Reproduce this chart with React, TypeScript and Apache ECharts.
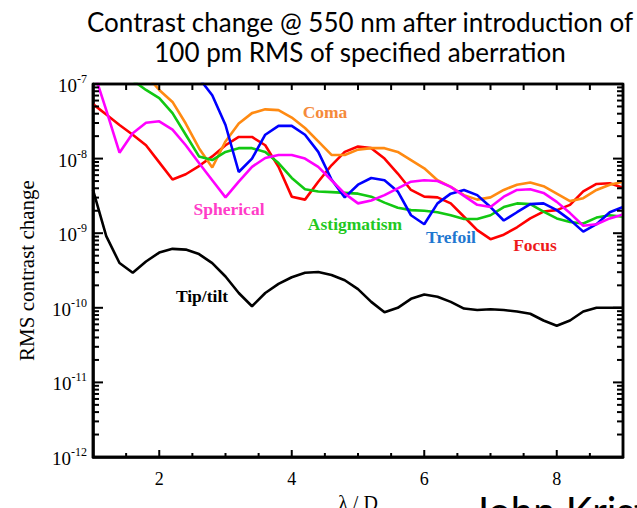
import React, { useEffect, useRef } from "react";
import * as echarts from "echarts";

// λ/D sample positions shared by every curve
const lambdaOverD = [
  1.0, 1.2, 1.4, 1.6, 1.8, 2.0, 2.2, 2.4, 2.6, 2.8, 3.0, 3.2, 3.4, 3.6, 3.8, 4.0,
  4.2, 4.4, 4.6, 4.8, 5.0, 5.2, 5.4, 5.6, 5.8, 6.0, 6.2, 6.4, 6.6, 6.8, 7.0, 7.2,
  7.4, 7.6, 7.8, 8.0, 8.2, 8.4, 8.6, 8.8, 9.0,
];

// RMS contrast change per aberration (null = not plotted)
const focus = [
  5.37e-8, 3.89e-8, 2.82e-8, 2.09e-8, 1.51e-8, 8.91e-9, 5.25e-9, 6.17e-9, 7.94e-9, 1.07e-8,
  1.51e-8, 1.95e-8, 1.95e-8, 1.51e-8, 7.76e-9, 3.09e-9, 2.82e-9, 4.9e-9, 8.13e-9, 1.23e-8,
  1.45e-8, 1.38e-8, 1.0e-8, 6.31e-9, 3.8e-9, 3.09e-9, 3.02e-9, 2.51e-9, 1.66e-9, 1.1e-9,
  8.32e-10, 9.55e-10, 1.2e-9, 1.58e-9, 1.95e-9, 2.04e-9, 2.4e-9, 3.63e-9, 4.57e-9, 4.68e-9,
  4.07e-9,
];
const coma = [
  null, null, null, null, 1.32e-7, 8.32e-8, 5.75e-8, 2.95e-8, 1.38e-8, 7.59e-9,
  1.7e-8, 2.95e-8, 4.07e-8, 4.57e-8, 4.47e-8, 3.55e-8, 2.57e-8, 1.7e-8, 1.12e-8, 1.12e-8,
  1.32e-8, 1.38e-8, 1.38e-8, 1.23e-8, 9.55e-9, 7.41e-9, 5.13e-9, 4.17e-9, 3.24e-9, 2.82e-9,
  3.02e-9, 3.8e-9, 4.47e-9, 4.79e-9, 4.27e-9, 3.39e-9, 2.69e-9, 2.95e-9, 3.8e-9, 4.47e-9,
  4.9e-9,
];
const astigmatism = [
  null, null, null, 1.12e-7, 8.32e-8, 6.46e-8, 4.07e-8, 2.09e-8, 1.07e-8, 9.55e-9,
  1.23e-8, 1.38e-8, 1.38e-8, 1.23e-8, 8.71e-9, 5.5e-9, 3.89e-9, 3.63e-9, 3.55e-9, 3.47e-9,
  3.39e-9, 3.09e-9, 2.57e-9, 2.19e-9, 2.04e-9, 2.0e-9, 1.91e-9, 1.74e-9, 1.55e-9, 1.55e-9,
  1.74e-9, 2.24e-9, 2.51e-9, 2.45e-9, 1.95e-9, 1.58e-9, 1.41e-9, 1.35e-9, 1.62e-9, 1.74e-9,
  1.66e-9,
];
const trefoil = [
  null, null, null, null, null, null, null, null, 1.2e-7, 7.08e-8,
  2.82e-8, 6.61e-9, 1.0e-8, 2.09e-8, 2.75e-8, 2.75e-8, 2.09e-8, 1.23e-8, 5.25e-9, 3.02e-9,
  4.47e-9, 5.5e-9, 5.13e-9, 3.63e-9, 1.74e-9, 1.32e-9, 2.51e-9, 3.39e-9, 3.8e-9, 3.24e-9,
  2.24e-9, 1.48e-9, 1.91e-9, 2.45e-9, 2.51e-9, 2.04e-9, 1.51e-9, 1.05e-9, 1.32e-9, 1.91e-9,
  2.24e-9,
];
const spherical = [
  1.58e-7, 4.47e-8, 1.2e-8, 2.19e-8, 3.02e-8, 3.16e-8, 2.45e-8, 1.51e-8, 8.71e-9, 5.13e-9,
  3.02e-9, 4.9e-9, 7.76e-9, 1.02e-8, 1.12e-8, 1.12e-8, 1.0e-8, 7.76e-9, 5.13e-9, 3.39e-9,
  2.51e-9, 2.75e-9, 3.24e-9, 3.98e-9, 4.9e-9, 5.13e-9, 5.01e-9, 4.17e-9, 3.16e-9, 2.4e-9,
  2.24e-9, 3.09e-9, 3.8e-9, 3.89e-9, 3.47e-9, 2.63e-9, 1.86e-9, 1.26e-9, 1.32e-9, 1.58e-9,
  1.78e-9,
];
const tipTilt = [
  3.8e-9, 9.12e-10, 3.98e-10, 2.95e-10, 4.17e-10, 5.5e-10, 6.17e-10, 6.03e-10, 5.25e-10, 3.98e-10,
  2.63e-10, 1.58e-10, 1.05e-10, 1.58e-10, 2.09e-10, 2.57e-10, 2.95e-10, 3.02e-10, 2.75e-10, 2.34e-10,
  1.78e-10, 1.2e-10, 8.71e-11, 1.0e-10, 1.32e-10, 1.51e-10, 1.41e-10, 1.2e-10, 9.77e-11, 9.33e-11,
  9.55e-11, 9.33e-11, 8.91e-11, 8.32e-11, 6.76e-11, 5.75e-11, 6.76e-11, 8.91e-11, 1.0e-10, 1.0e-10,
  1.0e-10,
];

// axis range, ticks and labels
const X_MIN = 1;
const X_MAX = 9;
const Y_MIN = 1e-12;
const Y_MAX = 1e-7;
const xLabelValues = [2, 4, 6, 8];
const xTickValues = [1.5, 2, 2.5, 3, 3.5, 4, 4.5, 5, 5.5, 6, 6.5, 7, 7.5, 8, 8.5];
const yDecades = [1e-12, 1e-11, 1e-10, 1e-9, 1e-8, 1e-7];
const yMinorTicks = [
  2e-12, 3e-12, 4e-12, 5e-12, 6e-12, 7e-12, 8e-12, 9e-12,
  2e-11, 3e-11, 4e-11, 5e-11, 6e-11, 7e-11, 8e-11, 9e-11,
  2e-10, 3e-10, 4e-10, 5e-10, 6e-10, 7e-10, 8e-10, 9e-10,
  2e-9, 3e-9, 4e-9, 5e-9, 6e-9, 7e-9, 8e-9, 9e-9,
  2e-8, 3e-8, 4e-8, 5e-8, 6e-8, 7e-8, 8e-8, 9e-8,
];

const curves = [
  { name: "Focus", data: focus, color: "#ff0000" },
  { name: "Coma", data: coma, color: "#ff8a12" },
  { name: "Astigmatism", data: astigmatism, color: "#12c812" },
  { name: "Trefoil", data: trefoil, color: "#0000ff" },
  { name: "Spherical", data: spherical, color: "#ff00ff" },
  { name: "Tip/tilt", data: tipTilt, color: "#000000" },
];

const SERIF = "'Liberation Serif', 'Times New Roman', serif";
const SANS = "Lato, 'Open Sans', sans-serif";
const FRAME_WIDTH = 2.5;

export default function App() {
  const ref = useRef<HTMLDivElement>(null);

  useEffect(() => {
    if (!ref.current) return;
    const chart = echarts.init(ref.current, null, { renderer: "svg" });

    const label = (text: string, x: number, y: number, color: string) => ({
      type: "text",
      x,
      y,
      z: 20,
      style: {
        text,
        fill: color,
        font: `bold 17.5px ${SERIF}`,
        textAlign: "center",
        textVerticalAlign: "middle",
      },
    });

    const labels = [
      label("Coma", 325, 112, "#f58a3a"),
      label("Spherical", 229, 209, "#ff3cc8"),
      label("Astigmatism", 355, 224, "#22c822"),
      label("Trefoil", 451, 237, "#1f78d0"),
      label("Focus", 535, 245, "#ee1a1a"),
      label("Tip/tilt", 202, 296, "#000000"),
      {
        type: "text",
        x: 472,
        y: 491,
        z: 20,
        style: { text: "John Krist", fill: "#000", font: `40px ${SANS}`, textVerticalAlign: "top" },
      },
    ];

    const axisLine = { show: true, onZero: false, lineStyle: { color: "#000000", width: FRAME_WIDTH } };

    chart.setOption({
      animation: false,
      backgroundColor: "#ffffff",
      grid: {
        left: 93,
        right: 14,
        top: 84,
        bottom: 51,
        containLabel: false,
        outerBoundsMode: "none",
        show: true,
        borderColor: "#000000",
        borderWidth: FRAME_WIDTH,
        backgroundColor: "rgba(0,0,0,0)",
      },
      title: {
        text: "Contrast change @ 550 nm after introduction of\n100 pm RMS of specified aberration",
        left: 355,
        top: 2,
        textAlign: "center",
        textStyle: { fontFamily: SANS, fontSize: 26, fontWeight: "normal", color: "#000", lineHeight: 30 },
      },
      xAxis: {
        type: "value",
        min: X_MIN,
        max: X_MAX,
        position: "bottom",
        splitLine: { show: false },
        axisLine,
        axisTick: { show: false },
        name: "λ / D",
        nameLocation: "middle",
        nameGap: 34,
        nameTextStyle: { fontFamily: SERIF, fontSize: 20, color: "#000" },
        axisLabel: { customValues: xLabelValues, fontFamily: SERIF, fontSize: 18, color: "#000", margin: 13 },
      },
      yAxis: {
        type: "log",
        logBase: 10,
        min: Y_MIN,
        max: Y_MAX,
        position: "left",
        splitLine: { show: false },
        axisLine,
        axisTick: { show: false },
        name: "RMS contrast change",
        nameLocation: "middle",
        nameRotate: 90,
        nameGap: 56,
        nameTextStyle: { fontFamily: SERIF, fontSize: 21, color: "#000" },
        axisLabel: {
          customValues: yDecades,
          margin: 6,
          formatter: (v: number) => `{b|10}{s|${Math.round(Math.log10(v))}}`,
          rich: {
            b: { fontFamily: SERIF, fontSize: 19, color: "#000", verticalAlign: "bottom", lineHeight: 22 },
            s: { fontFamily: SERIF, fontSize: 12, color: "#000", verticalAlign: "top", lineHeight: 22 },
          },
        },
      },
      series: [
        ...curves.map((c) => ({
          name: c.name,
          type: "line",
          xAxisIndex: 0,
          yAxisIndex: 0,
          showSymbol: false,
          clip: true,
          connectNulls: false,
          lineStyle: { color: c.color, width: 2.6 },
          itemStyle: { color: c.color },
          data: lambdaOverD.map((x, i) => [x, c.data[i]]),
        })),
        {
          // plot frame along the axis extents
          name: "frame",
          type: "line",
          xAxisIndex: 0,
          yAxisIndex: 0,
          silent: true,
          clip: false,
          showSymbol: false,
          lineStyle: { color: "#000000", width: FRAME_WIDTH },
          data: [
            [X_MIN, Y_MIN],
            [X_MAX, Y_MIN],
            [X_MAX, Y_MAX],
            [X_MIN, Y_MAX],
            [X_MIN, Y_MIN],
          ],
        },
      ],
      graphic: labels,
    });

    // inward ticks on all four edges, positioned through the axis scales
    const px = (x: number, y: number) => chart.convertToPixel({ gridIndex: 0 }, [x, y]) as number[];
    const tick = (a: number[], b: number[]) => ({
      type: "polyline",
      silent: true,
      z: 10,
      shape: { points: [a, b] },
      style: { stroke: "#000000", lineWidth: 2 },
    });
    const ticks: any[] = [];
    xTickValues.forEach((v) => {
      const b = px(v, Y_MIN);
      ticks.push(tick(b, [b[0], b[1] - (xLabelValues.includes(v) ? 7 : 4)]));
      const t = px(v, Y_MAX);
      ticks.push(tick(t, [t[0], t[1] + 6]));
    });
    [...yDecades, ...yMinorTicks].forEach((v) => {
      const len = yDecades.includes(v) ? 10 : 6;
      const l = px(X_MIN, v);
      ticks.push(tick(l, [l[0] + len, l[1]]));
      const r = px(X_MAX, v);
      ticks.push(tick(r, [r[0] - len, r[1]]));
    });
    chart.setOption({ graphic: [...labels, ...ticks] });

    return () => chart.dispose();
  }, []);

  return (
    <div
      ref={ref}
      style={{ position: "absolute", left: 0, top: 0, width: 637, height: 508 }}
    />
  );
}
